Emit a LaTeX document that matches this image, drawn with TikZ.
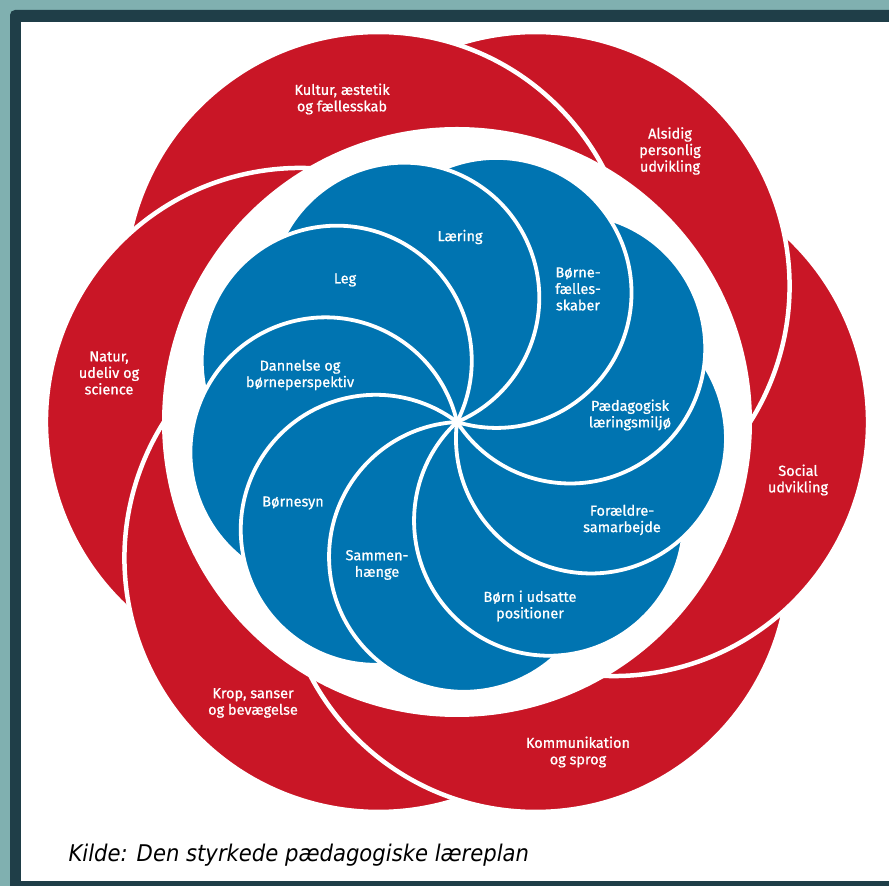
\documentclass[tikz,border=0pt]{standalone}
\usepackage{fontspec}
\setmainfont{Fira Sans}[FakeBold=0.8]
\newfontfamily\kildefont{DejaVu Sans}[FakeStretch=0.92]
\usetikzlibrary{calc}

\definecolor{tealbg}{RGB}{128,176,176}
\definecolor{darkframe}{RGB}{31,62,72}
\definecolor{redpetal}{RGB}{201,22,38}
\definecolor{bluepetal}{RGB}{0,116,177}

\tikzset{
  redgap/.style={white,line width=4.5pt},
  bluegap/.style={white,line width=3.8pt},
  lbl/.style={text=white,align=center,font=\fontsize{14.5}{16.5}\selectfont},
}

\begin{document}
\begin{tikzpicture}[x=1pt,y=1pt]
\useasboundingbox (0,0) rectangle (889,886);
\fill[tealbg] (0,0) rectangle (889,886);
\fill[darkframe,rounded corners=5pt] (10,-10) rectangle (900,876);
\fill[white] (21,5) rectangle (889,864);
\coordinate(C) at (457,464);
\foreach \a in {0,60,...,300}
  \fill[redpetal] (C) ++(\a:157) circle[radius=254];
\foreach \a in {0,60,...,300}
  \draw[redgap] (C) ++(\a:157) ++(\a+192:254) arc[start angle=\a+192,end angle=\a+408,radius=254];
\fill[white] (C) circle[radius=295];
\foreach \a in {33,73,...,353}
  \fill[bluepetal] (C) ++(\a:135) circle[radius=135];
\foreach \a in {33,73,...,353}
  \draw[bluegap] (C) arc[start angle=\a-180,end angle=\a+40,radius=135];
\node[lbl] (kultur) at (342,787) {Kultur, æstetik\\og fællesskab};
\node[lbl] (alsidig) at (670,735) {Alsidig\\personlig\\udvikling};
\node[lbl] (social) at (798,406) {Social\\udvikling};
\node[lbl] (kommunikation) at (578,134) {Kommunikation\\og sprog};
\node[lbl] (krop) at (253,183) {Krop, sanser\\og bevægelse};
\node[lbl] (natur) at (109,513) {Natur,\\udeliv og\\science};
\node[lbl] (laering) at (460,649) {Læring};
\node[lbl] (leg) at (345,606) {Leg};
\node[lbl] (dannelse) at (300,511) {Dannelse og\\børneperspektiv};
\node[lbl] (boernesyn) at (293,383) {Børnesyn};
\node[lbl] (sammenhaenge) at (377,321) {Sammen-\\hænge};
\node[lbl] (udsatte) at (530,280) {Børn i udsatte\\positioner};
\node[lbl] (foraeldre) at (622,366) {Forældre-\\samarbejde};
\node[lbl] (paedagogisk) at (630,471) {Pædagogisk\\læringsmiljø};
\node[lbl] (faelles) at (578,597) {Børne-\\fælles-\\skaber};
\node[anchor=base west,font=\kildefont\itshape\fontsize{23}{26}\selectfont] (kilde) at (65,24) {Kilde: Den styrkede pædagogiske læreplan};
\end{tikzpicture}
\end{document}
